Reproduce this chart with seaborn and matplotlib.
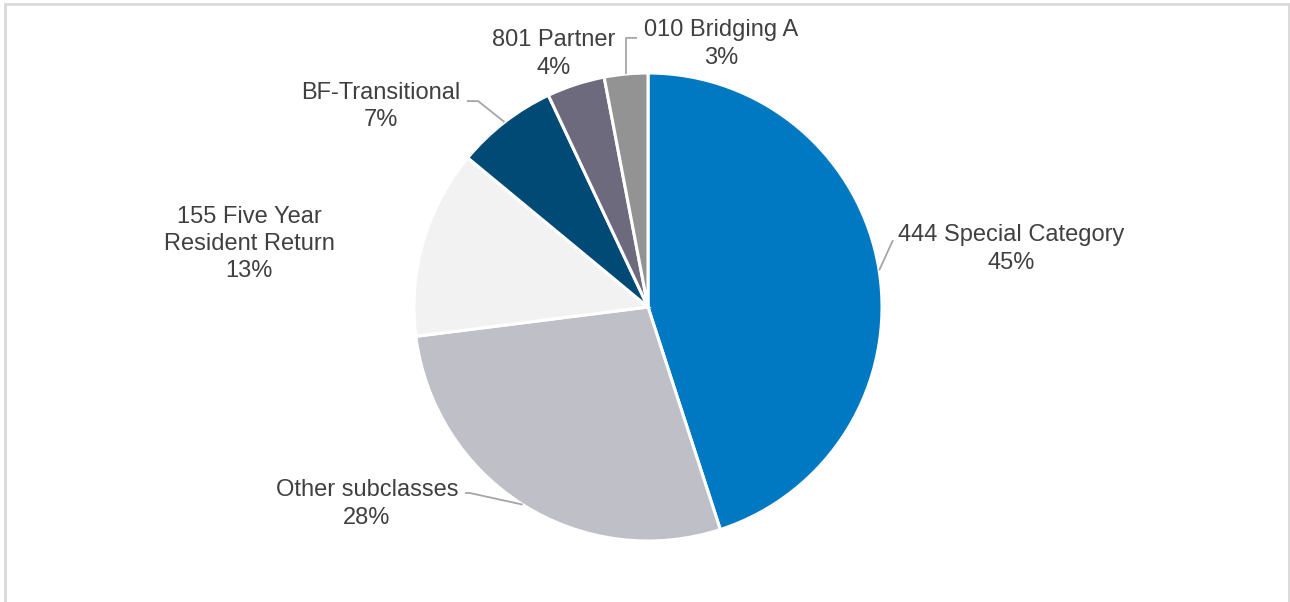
import numpy as np
import matplotlib
matplotlib.use("Agg")
import matplotlib.pyplot as plt
import seaborn as sns
from matplotlib.patches import Rectangle

# data (clockwise from 12 o'clock)
categories = ["444 Special Category", "Other subclasses", "155 Five Year\nResident Return",
              "BF-Transitional", "801 Partner", "010 Bridging A"]
shares = [45, 28, 13, 7, 4, 3]
colors = ["#0079C2", "#BFBFC8", "#F2F2F2", "#004A75", "#6C6A7C", "#939393"]

# label layout in pie-radius units (centre of text block), plus leader elbows
label_pos = [(1.552, 0.248), (-1.201, -0.842), (-1.705, 0.269),
             (-1.141, 0.855), (-0.402, 1.081), (0.312, 1.124)]
leader_elbow = [(1.047, 0.286), (-0.761, -0.795), (None, None),
                (-0.726, 0.880), (None, None), (-0.094, 1.150)]
leader_end = [(1.047, 0.286), (-0.782, -0.795), (None, None),
              (-0.774, 0.880), (None, None), (-0.047, 1.150)]

sns.set_theme(style="white")
plt.rcParams["font.family"] = ["Liberation Sans", "DejaVu Sans"]

fig = plt.figure(figsize=(12.9, 6.02), dpi=100)
ax = fig.add_axes([0, 0, 1, 1])

wedges, _ = ax.pie(shares, colors=colors, startangle=90, counterclock=False,
                   wedgeprops=dict(edgecolor="white", linewidth=2.2))

# axes limits so the pie sits at pixel (648, 307) with radius 234
R, cx, cy = 234.0, 648.0, 307.0
ax.set_xlim(-cx / R, (1290 - cx) / R)
ax.set_ylim(-(602 - cy) / R, cy / R)
ax.set_aspect("equal", adjustable="datalim")
ax.axis("off")

txt_col = "#404040"
line_col = "#A6A6A6"
for w, cat, pct, pos, elb, end in zip(wedges, categories, shares, label_pos,
                                      leader_elbow, leader_end):
    ax.text(pos[0], pos[1], f"{cat}\n{pct}%", ha="center", va="center",
            fontsize=17, color=txt_col, linespacing=1.3)
    if elb[0] is None:
        continue
    mid = np.deg2rad((w.theta1 + w.theta2) / 2)
    px, py = np.cos(mid), np.sin(mid)
    ax.plot([px, elb[0], end[0]], [py, elb[1], end[1]], color=line_col,
            lw=1.3, solid_capstyle="butt")

fig.patches.append(Rectangle((5 / 1290, -0.05), 1284 / 1290, 1.05 - 4 / 602,
                             transform=fig.transFigure, fill=False,
                             edgecolor="#D9D9D9", linewidth=2))

fig.savefig("out.png", dpi=100, facecolor="white")
